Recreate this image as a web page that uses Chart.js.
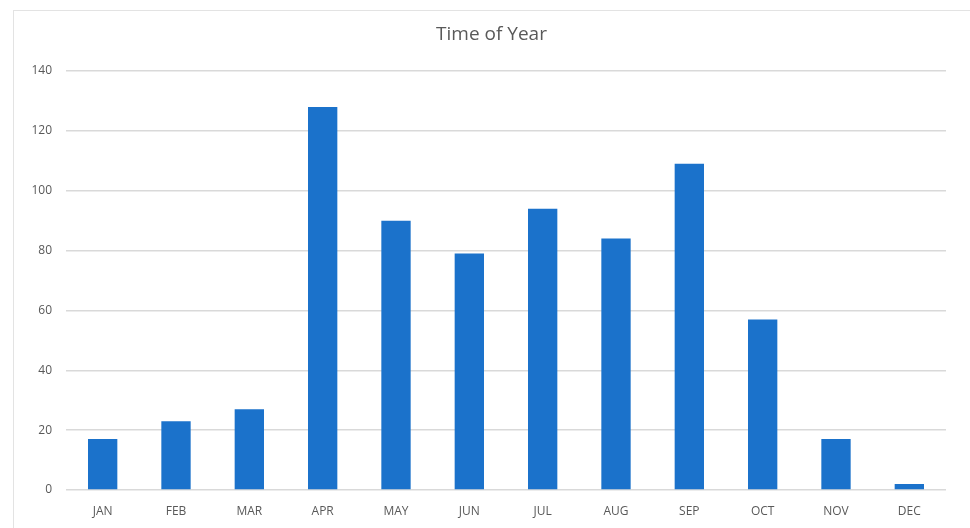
<!DOCTYPE html>
<html>
<head>
<meta charset="utf-8">
<script src="https://cdn.jsdelivr.net/npm/chart.js@4"></script>
<style>
    html, body { margin: 0; padding: 0; background: #fff; overflow: hidden; }
    #frame {
        position: absolute; left: 13px; top: 10px; width: 980px; height: 540px;
        border: 1px solid #e3e3e3; box-sizing: border-box;
    }
    #wrap { position: absolute; left: 0; top: 0; width: 970px; height: 528px; }
</style>
</head>
<body>
<div id="frame"></div>
<div id="wrap"><canvas id="chart"></canvas></div>
<script>
const months = ['JAN', 'FEB', 'MAR', 'APR', 'MAY', 'JUN', 'JUL', 'AUG', 'SEP', 'OCT', 'NOV', 'DEC'];
const counts = [17, 23, 27, 128, 90, 79, 94, 84, 109, 57, 17, 2];
const yTicks = [0, 20, 40, 60, 80, 100, 120, 140];
const chartTitle = 'Time of Year';

const textColor = '#595959';
const fontFamily = "'Open Sans', 'Noto Sans', sans-serif";

// title is centred on the framed panel (x 13..970), not on the plot
const panelTitle = {
    id: 'panelTitle',
    afterDraw(chart) {
        const c = chart.ctx;
        c.save();
        c.fillStyle = textColor;
        c.font = `19px ${fontFamily}`;
        c.textAlign = 'center';
        c.textBaseline = 'middle';
        c.fillText(chartTitle, (13 + chart.width) / 2, 35);
        c.restore();
    }
};

const ctx = document.getElementById('chart').getContext('2d');

new Chart(ctx, {
    type: 'bar',
    data: {
        labels: months,
        datasets: [{
            label: 'Count',
            data: counts,
            backgroundColor: '#1b72cb',
            borderWidth: 0,
            barPercentage: 0.4,
            categoryPercentage: 1.0
        }]
    },
    options: {
        responsive: true,
        maintainAspectRatio: false,
        animation: false,
        layout: {
            padding: { top: 71, right: 24, bottom: 0, left: 0 }
        },
        plugins: {
            legend: { display: false },
            tooltip: { enabled: false },
            title: { display: false }
        },
        scales: {
            y: {
                min: 0,
                max: 140,
                afterBuildTicks: scale => {
                    scale.ticks = yTicks.map(v => ({ value: v }));
                },
                afterFit: scale => { scale.width = 66; },
                border: { display: false },
                grid: {
                    color: '#d9d9d9',
                    lineWidth: 1.5,
                    drawTicks: false
                },
                ticks: {
                    color: textColor,
                    padding: 14,
                    font: { family: fontFamily, size: 12 }
                }
            },
            x: {
                afterFit: scale => { scale.height = 38; },
                border: { display: false },
                grid: { display: false },
                ticks: {
                    color: textColor,
                    padding: 6,
                    font: { family: fontFamily, size: 12 }
                }
            }
        }
    },
    plugins: [panelTitle]
});
</script>
</body>
</html>
